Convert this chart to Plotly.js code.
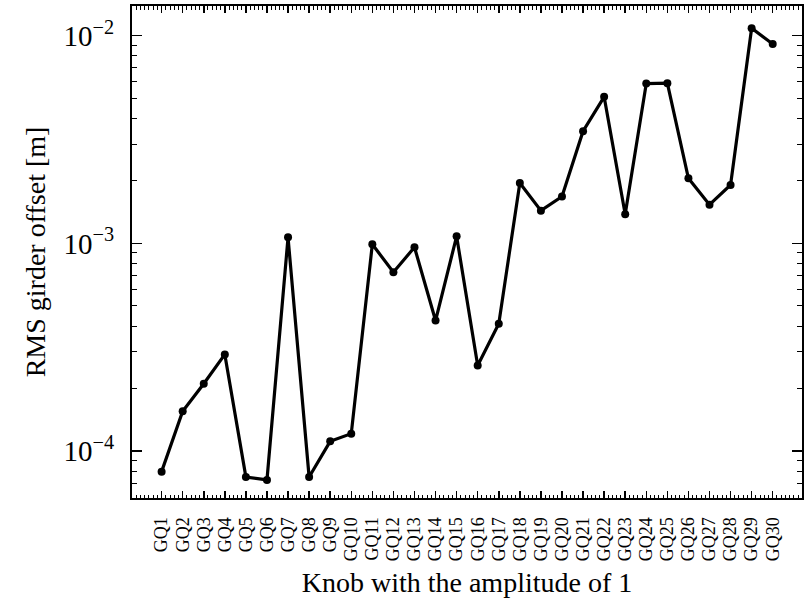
<!DOCTYPE html>
<html>
<head>
<meta charset="utf-8">
<script src="https://cdn.plot.ly/plotly-3.0.1.min.js"></script>
<style>html,body{margin:0;padding:0;background:#fff;}#chart{width:808px;height:601px;}</style>
</head>
<body>
<div id="chart"></div>
<script>
const knobs = ["GQ1","GQ2","GQ3","GQ4","GQ5","GQ6","GQ7","GQ8","GQ9","GQ10",
  "GQ11","GQ12","GQ13","GQ14","GQ15","GQ16","GQ17","GQ18","GQ19","GQ20",
  "GQ21","GQ22","GQ23","GQ24","GQ25","GQ26","GQ27","GQ28","GQ29","GQ30"];
const knobIndex = [1,2,3,4,5,6,7,8,9,10,11,12,13,14,15,16,17,18,19,20,21,22,23,24,25,26,27,28,29,30];
const rmsOffset = [7.96e-5,1.556e-4,2.11e-4,2.92e-4,7.5e-5,7.26e-5,1.069e-3,7.5e-5,1.114e-4,1.213e-4,
  9.9e-4,7.26e-4,9.58e-4,4.25e-4,1.081e-3,2.58e-4,4.1e-4,1.954e-3,1.437e-3,1.68e-3,
  3.47e-3,5.08e-3,1.38e-3,5.88e-3,5.91e-3,2.056e-3,1.536e-3,1.91e-3,1.086e-2,9.12e-3];
const yMajorVals = [1e-4,1e-3,1e-2];
const yMajorText = ["10<sup>\u22124</sup>","10<sup>\u22123</sup>","10<sup>\u22122</sup>"];

const yMinor = [];
[1e-5,1e-4,1e-3].forEach(d => { for (let k = 2; k <= 9; k++) yMinor.push(k*d); });

const font = "Liberation Serif, Times New Roman, serif";

Plotly.newPlot("chart", [{
  x: knobIndex, y: rmsOffset, type: "scatter", mode: "lines+markers",
  line: {color: "#000", width: 3.2},
  marker: {color: "#000", size: 8},
  showlegend: false
}], {
  width: 808, height: 601,
  margin: {l: 132, r: 6, t: 6, b: 103},
  paper_bgcolor: "#fff", plot_bgcolor: "#fff",
  font: {family: font, color: "#000"},
  xaxis: {
    range: [-0.405, 31.39],
    tickmode: "array", tickvals: knobIndex, ticktext: knobs,
    tickangle: -90, tickfont: {size: 18, family: font},
    ticklabelstandoff: 10,
    ticks: "inside", ticklen: 7, tickwidth: 1.5, tickcolor: "#000",
    minor: {tickmode: "linear", tick0: 0, dtick: 0.2, ticks: "inside", ticklen: 3.5, tickwidth: 1, tickcolor: "#000", showgrid: false},
    showline: true, linecolor: "#000", linewidth: 2, mirror: "ticks",
    showgrid: false, zeroline: false,
    title: {text: "Knob with the amplitude of 1", font: {size: 28, family: font}, standoff: 12}
  },
  yaxis: {
    type: "log",
    range: [-4.226, -1.857],
    tickmode: "array", tickvals: yMajorVals, ticktext: yMajorText,
    tickfont: {size: 29, family: font},
    ticklabelstandoff: 10,
    ticks: "inside", ticklen: 10, tickwidth: 1.5, tickcolor: "#000",
    minor: {tickmode: "array", tickvals: yMinor, ticks: "inside", ticklen: 5, tickwidth: 1, tickcolor: "#000", showgrid: false},
    showline: true, linecolor: "#000", linewidth: 2, mirror: "ticks",
    showgrid: false, zeroline: false,
    title: {text: "RMS girder offset [m]", font: {size: 28, family: font}, standoff: 10}
  }
}, {displayModeBar: false, staticPlot: true});
</script>
</body>
</html>
